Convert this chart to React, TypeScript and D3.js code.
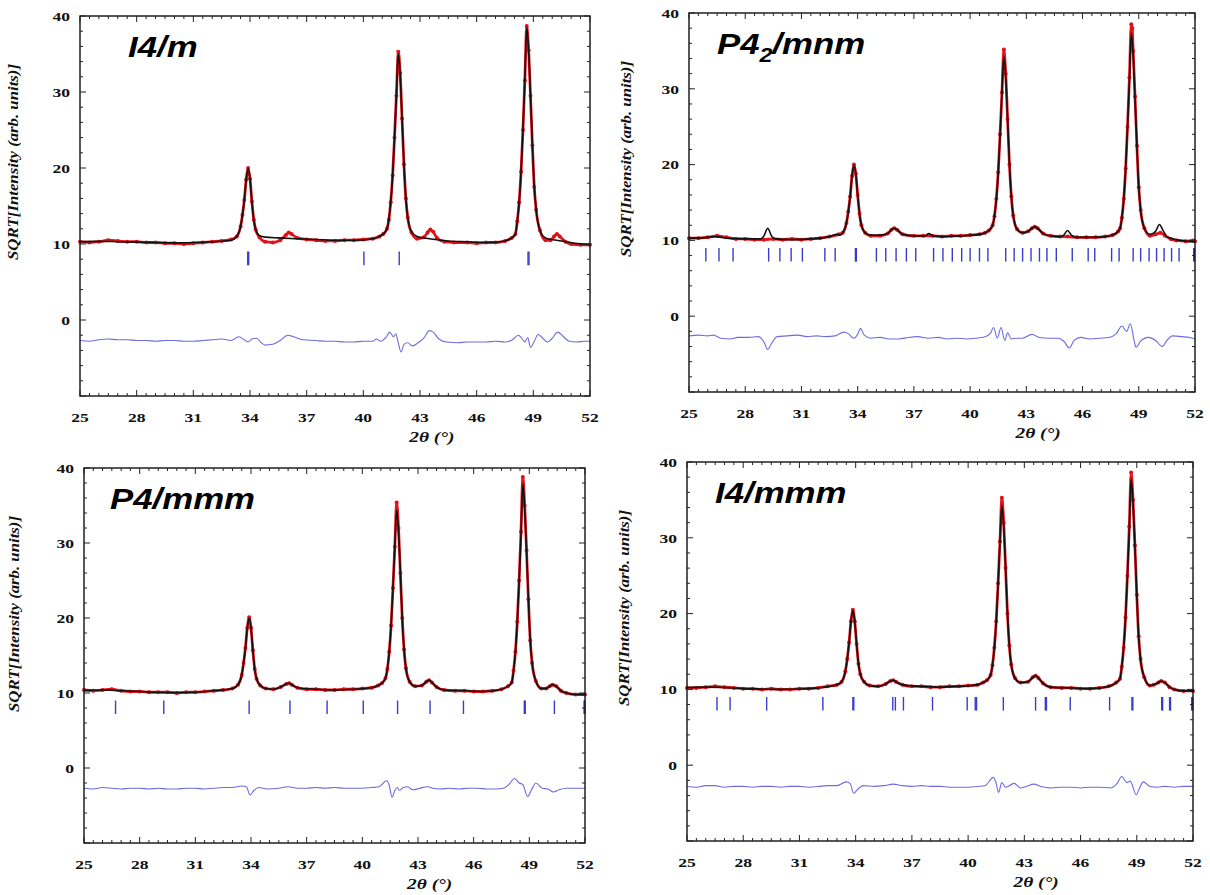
import React from 'react';
import * as d3 from 'd3';

type Pt = [number, number];

// axis ticks shared by all four refinements
const xTickLabels = [25, 28, 31, 34, 37, 40, 43, 46, 49, 52];
const yTickLabels = [0, 10, 20, 30, 40];

// ---- I4/m ----
const obsI4m: Pt[] = [
  [25, 10.3], [25.5, 10.2], [26, 10.3], [26.5, 10.5], [27, 10.4], [27.5, 10.3], [28, 10.3], [28.5, 10.2],
  [29, 10.2], [29.5, 10.1], [30, 10.1], [30.5, 10.0], [31, 10.1], [31.5, 10.2], [32, 10.3], [32.5, 10.4], [33, 10.6],
  [33.3, 11.0], [33.5, 12.3], [33.6, 13.8], [33.7, 15.8], [33.8, 18.5], [33.9, 20.0], [34.0, 18.6], [34.1, 15.6],
  [34.2, 13.2], [34.3, 11.9], [34.5, 10.9], [34.8, 10.3], [35.2, 10.2], [35.6, 10.5], [35.9, 11.2], [36.05, 11.5],
  [36.2, 11.3], [36.5, 10.8], [37, 10.6], [37.5, 10.5], [38, 10.4], [38.5, 10.4], [39, 10.5], [39.5, 10.5],
  [40, 10.6], [40.5, 10.7], [40.85, 11.0],
  [41.05, 11.3], [41.25, 12.0], [41.35, 13.2], [41.45, 15.5], [41.55, 19.0], [41.65, 24.0], [41.75, 29.5],
  [41.85, 35.3], [41.95, 32.5], [42.05, 26.5], [42.15, 20.5], [42.25, 16.0], [42.35, 13.5], [42.55, 11.5],
  [42.85, 10.7], [43.2, 10.9], [43.4, 11.5], [43.55, 11.9], [43.7, 11.6], [43.9, 10.8], [44.3, 10.3], [44.8, 10.2],
  [45.5, 10.2], [46, 10.1], [46.5, 10.2], [47, 10.2], [47.5, 10.4], [47.85, 10.8],
  [48.05, 11.3], [48.15, 13.0], [48.25, 15.5], [48.35, 19.5], [48.45, 25.0], [48.55, 31.5], [48.65, 38.7],
  [48.75, 35.5], [48.85, 29.5], [48.95, 23.0], [49.05, 17.5], [49.15, 14.5], [49.35, 11.8], [49.65, 10.5],
  [49.9, 10.5], [50.1, 11.0], [50.25, 11.3], [50.4, 11.0], [50.7, 10.3], [51, 10.0], [51.5, 9.9], [52, 9.9],
];
const calcI4m: Pt[] = [
  [25, 10.3], [26, 10.35], [27, 10.3], [28, 10.25], [29, 10.2], [30, 10.15], [31, 10.2], [32, 10.3], [33, 10.5],
  [33.3, 11.0], [33.5, 12.3], [33.6, 13.8], [33.7, 15.8], [33.8, 18.5], [33.9, 19.9], [34.0, 18.6], [34.1, 15.6],
  [34.2, 13.2], [34.3, 11.9], [34.5, 11.1], [34.8, 10.9], [35.5, 10.8], [36.5, 10.7], [37.5, 10.6], [38.5, 10.5],
  [39.5, 10.5], [40.5, 10.7], [40.85, 11.0],
  [41.05, 11.3], [41.25, 12.0], [41.35, 13.2], [41.45, 15.5], [41.55, 19.0], [41.65, 24.0], [41.75, 29.5],
  [41.85, 35.0], [41.95, 32.3], [42.05, 26.5], [42.15, 20.5], [42.25, 16.0], [42.35, 13.5], [42.55, 11.6],
  [42.85, 11.0], [43.5, 10.7], [44.5, 10.4], [45.5, 10.3], [46.5, 10.2], [47.5, 10.4], [47.85, 10.8],
  [48.05, 11.3], [48.15, 13.0], [48.25, 15.5], [48.35, 19.5], [48.45, 25.0], [48.55, 31.5], [48.65, 38.5],
  [48.75, 35.5], [48.85, 29.5], [48.95, 23.0], [49.05, 17.5], [49.15, 14.5], [49.35, 11.8], [49.65, 10.8],
  [50.5, 10.4], [51.2, 10.1], [52, 9.9],
];
const diffI4m: Pt[] = [
  [25, -2.7], [25.5, -2.8], [26, -2.6], [26.5, -2.5], [27, -2.6], [27.5, -2.6], [28, -2.7], [28.5, -2.7],
  [29, -2.8], [29.5, -2.7], [30, -2.7], [30.5, -2.8], [31, -2.8], [31.5, -2.7], [32, -2.6], [32.5, -2.5],
  [33, -2.7], [33.4, -2.2], [33.7, -2.6], [33.9, -2.9], [34.1, -2.5], [34.35, -2.4], [34.6, -3.0], [34.8, -3.3],
  [35.2, -3.2], [35.6, -2.7], [36.0, -2.0], [36.3, -2.2], [36.8, -2.6], [37.5, -2.7], [38, -2.8], [38.5, -2.8],
  [39, -2.9], [39.5, -2.9], [40, -2.8], [40.5, -2.8], [40.7, -2.5], [40.9, -2.8], [41.2, -2.3], [41.4, -1.6],
  [41.6, -2.2], [41.72, -1.8], [41.85, -3.0], [42.0, -4.2], [42.15, -3.2], [42.35, -3.0], [42.6, -3.4],
  [42.9, -3.0], [43.2, -2.4], [43.5, -1.4], [43.7, -1.6], [44.0, -2.5], [44.4, -2.9], [45, -3.0], [45.5, -2.9],
  [46, -2.9], [46.5, -2.9], [47, -2.8], [47.5, -2.9], [47.9, -2.6], [48.2, -2.0], [48.45, -2.6], [48.55, -2.9],
  [48.7, -2.3], [48.85, -3.6], [49.05, -2.8], [49.25, -1.9], [49.5, -2.4], [49.75, -2.9], [50.0, -2.4],
  [50.3, -1.6], [50.6, -2.2], [50.9, -2.8], [51.3, -2.9], [51.7, -2.8], [52, -2.8],
];
const braggI4m = [33.88, 33.93, 40.03, 41.9, 48.72, 48.77];

// ---- P4_2/mnm ----
const obsP42mnm: Pt[] = [
  [25, 10.3], [25.5, 10.3], [26, 10.4], [26.5, 10.6], [27, 10.4], [27.5, 10.2], [28, 10.2], [28.5, 10.1],
  [29, 10.1], [29.5, 10.2], [30, 10.1], [30.5, 10.2], [31, 10.1], [31.5, 10.2], [32, 10.3], [32.5, 10.5], [33.0, 10.8],
  [33.2, 11.0], [33.4, 12.3], [33.5, 13.8], [33.6, 15.8], [33.7, 18.5], [33.8, 20.0], [33.9, 18.8], [34.0, 16.0],
  [34.1, 13.5], [34.2, 12.0], [34.4, 11.0], [34.7, 10.6], [35.2, 10.6], [35.6, 10.9], [35.8, 11.4], [35.95, 11.6],
  [36.1, 11.4], [36.4, 10.8], [37, 10.6], [37.5, 10.6], [38, 10.6], [38.5, 10.5], [39, 10.6], [39.5, 10.6],
  [40, 10.7], [40.5, 10.8], [40.8, 11.0],
  [41.0, 11.3], [41.2, 12.0], [41.3, 13.2], [41.4, 15.5], [41.5, 19.0], [41.6, 24.0], [41.7, 29.5], [41.8, 35.2],
  [41.9, 32.0], [42.0, 26.0], [42.1, 20.0], [42.2, 15.8], [42.3, 13.3], [42.5, 11.5], [42.8, 11.0], [43.1, 11.2],
  [43.3, 11.6], [43.45, 11.8], [43.6, 11.6], [43.9, 10.9], [44.3, 10.6], [44.8, 10.5], [45.2, 10.5], [45.7, 10.4],
  [46.2, 10.4], [46.7, 10.4], [47.2, 10.5], [47.6, 10.7], [47.9, 11.2],
  [48.0, 11.6], [48.1, 13.0], [48.2, 15.5], [48.3, 19.5], [48.4, 25.0], [48.5, 31.5], [48.6, 38.5], [48.65, 38.0],
  [48.7, 35.0], [48.8, 29.0], [48.9, 22.5], [49.0, 17.0], [49.1, 14.0], [49.3, 11.6], [49.6, 10.6], [49.9, 10.8],
  [50.15, 11.0], [50.4, 10.6], [50.7, 10.2], [51.0, 10.0], [51.5, 9.9], [51.9, 10.0], [52, 9.9],
];
const calcP42mnm: Pt[] = [
  [25, 10.3], [26, 10.4], [26.4, 10.5], [27, 10.3], [28, 10.2], [28.8, 10.2], [29.0, 10.6], [29.2, 11.6],
  [29.4, 10.6], [29.6, 10.2], [30.5, 10.1], [31.5, 10.2], [32.5, 10.5], [32.9, 10.8], [33.05, 10.7],
  [33.2, 11.0], [33.4, 12.3], [33.5, 13.8], [33.6, 15.8], [33.7, 18.5], [33.8, 19.9], [33.9, 18.8], [34.0, 16.0],
  [34.1, 13.5], [34.2, 12.0], [34.4, 11.0], [34.7, 10.7], [35.2, 10.7], [35.6, 10.9], [35.8, 11.4], [35.95, 11.6],
  [36.1, 11.4], [36.4, 10.8], [37.0, 10.6], [37.6, 10.6], [37.8, 10.9], [38.0, 10.6], [38.5, 10.5], [39.5, 10.6],
  [40.5, 10.8], [40.8, 11.0],
  [41.0, 11.3], [41.2, 12.0], [41.3, 13.2], [41.4, 15.5], [41.5, 19.0], [41.6, 24.0], [41.7, 29.5], [41.8, 34.3],
  [41.9, 31.5], [42.0, 26.0], [42.1, 20.0], [42.2, 15.8], [42.3, 13.3], [42.5, 11.5], [42.8, 11.0], [43.1, 11.2],
  [43.3, 11.6], [43.45, 11.8], [43.6, 11.6], [43.9, 10.9], [44.3, 10.6], [44.8, 10.5], [45.0, 10.7], [45.2, 11.3],
  [45.4, 10.7], [45.7, 10.4], [46.5, 10.4], [47.2, 10.5], [47.6, 10.7], [47.9, 11.2],
  [48.0, 11.6], [48.1, 13.0], [48.2, 15.5], [48.3, 19.5], [48.4, 25.0], [48.5, 31.0], [48.6, 37.4], [48.7, 34.5],
  [48.8, 28.5], [48.9, 22.5], [49.0, 17.0], [49.1, 14.0], [49.3, 11.6], [49.6, 10.8], [49.9, 11.2], [50.1, 12.1],
  [50.3, 11.3], [50.5, 10.5], [51.0, 10.1], [51.5, 9.9], [52, 9.8],
];
const diffP42mnm: Pt[] = [
  [25, -2.6], [25.5, -2.5], [26, -2.6], [26.3, -2.5], [26.7, -2.9], [27.2, -3.0], [27.6, -2.8], [28.2, -2.8],
  [28.7, -2.7], [29.0, -3.4], [29.2, -4.4], [29.4, -3.6], [29.7, -2.7], [30.2, -2.6], [30.8, -2.5], [31.3, -2.7],
  [31.8, -2.6], [32.3, -2.7], [32.8, -2.6], [33.25, -2.1], [33.5, -2.3], [33.8, -2.9], [34.0, -2.4],
  [34.15, -1.6], [34.35, -2.5], [34.7, -2.9], [35.2, -2.8], [35.7, -3.0], [36.2, -3.0], [36.7, -2.8],
  [37.2, -2.7], [37.8, -2.9], [38.3, -2.8], [38.8, -3.0], [39.3, -2.9], [39.8, -3.0], [40.3, -2.9], [40.8, -2.7],
  [41.1, -2.2], [41.25, -1.5], [41.45, -2.9], [41.65, -1.5], [41.85, -3.2], [42.0, -2.2], [42.2, -3.0],
  [42.4, -2.9], [42.8, -2.9], [43.3, -2.4], [43.7, -2.8], [44.2, -2.9], [44.7, -2.9], [45.0, -3.3], [45.3, -4.2],
  [45.55, -3.2], [45.9, -2.8], [46.4, -3.0], [46.9, -2.9], [47.4, -2.8], [47.8, -2.3], [48.1, -1.3],
  [48.35, -2.0], [48.55, -1.0], [48.75, -3.2], [48.85, -4.1], [49.1, -3.3], [49.5, -2.8], [49.9, -3.2],
  [50.25, -4.0], [50.5, -3.2], [50.8, -2.6], [51.3, -2.7], [51.7, -2.8], [52, -3.0],
];
const braggP42mnm = [
  25.9, 26.6, 27.35, 29.25, 29.85, 30.45, 31.05, 32.25, 32.8, 33.88, 33.93, 35.0, 35.5, 36.05, 36.6, 37.1,
  38.05, 38.55, 39.05, 39.55, 40.0, 40.5, 40.95, 41.9, 42.35, 42.8, 43.25, 43.7, 44.1, 44.6, 45.45, 46.3,
  46.65, 47.55, 47.95, 48.7, 49.1, 49.55, 49.95, 50.35, 50.75, 51.15, 51.93, 51.97,
];

// ---- P4/mmm ----
const obsP4mmm: Pt[] = [
  [25, 10.4], [25.5, 10.3], [26, 10.4], [26.5, 10.5], [27, 10.3], [27.5, 10.2], [28, 10.2], [28.5, 10.1],
  [29, 10.1], [29.5, 10.1], [30, 10.0], [30.5, 10.1], [31, 10.1], [31.5, 10.2], [32, 10.3], [32.5, 10.4], [33.0, 10.6],
  [33.3, 11.1], [33.5, 12.4], [33.6, 14.0], [33.7, 16.0], [33.8, 18.7], [33.9, 20.1], [34.0, 18.7], [34.1, 15.7],
  [34.2, 13.2], [34.3, 11.9], [34.5, 11.0], [34.8, 10.6], [35.2, 10.5], [35.6, 10.8], [35.9, 11.2], [36.05, 11.3],
  [36.2, 11.1], [36.5, 10.7], [37, 10.5], [37.5, 10.5], [38, 10.4], [38.5, 10.4], [39, 10.5], [39.5, 10.5],
  [40, 10.6], [40.5, 10.7], [40.85, 11.0],
  [41.05, 11.3], [41.25, 12.0], [41.35, 13.2], [41.45, 15.5], [41.55, 19.0], [41.65, 24.0], [41.75, 29.5],
  [41.85, 35.4], [41.95, 32.0], [42.05, 26.0], [42.15, 20.0], [42.25, 15.8], [42.35, 13.3], [42.55, 11.5],
  [42.85, 10.9], [43.2, 11.0], [43.45, 11.5], [43.6, 11.7], [43.75, 11.4], [44.0, 10.8], [44.4, 10.4], [45, 10.3],
  [45.5, 10.3], [46, 10.2], [46.5, 10.2], [47, 10.3], [47.5, 10.5], [47.85, 10.9],
  [48.05, 11.4], [48.15, 13.0], [48.25, 15.5], [48.35, 19.5], [48.45, 25.0], [48.55, 31.5], [48.65, 38.8],
  [48.75, 35.0], [48.85, 29.0], [48.95, 22.5], [49.05, 17.0], [49.15, 14.0], [49.35, 11.6], [49.65, 10.6],
  [49.9, 10.6], [50.1, 10.9], [50.25, 11.1], [50.45, 10.9], [50.7, 10.3], [51, 10.0], [51.5, 9.8], [52, 9.8],
];
const calcP4mmm: Pt[] = [
  [25, 10.35], [26, 10.4], [27, 10.3], [28, 10.2], [29, 10.1], [30, 10.05], [31, 10.1], [32, 10.3], [33.0, 10.6],
  [33.3, 11.1], [33.5, 12.4], [33.6, 14.0], [33.7, 16.0], [33.8, 18.7], [33.9, 20.0], [34.0, 18.7], [34.1, 15.7],
  [34.2, 13.2], [34.3, 11.9], [34.5, 11.0], [34.8, 10.6], [35.2, 10.5], [35.6, 10.8], [35.9, 11.2], [36.05, 11.3],
  [36.2, 11.1], [36.5, 10.7], [37.5, 10.5], [38.5, 10.4], [39.5, 10.5], [40.5, 10.7], [40.85, 11.0],
  [41.05, 11.3], [41.25, 12.0], [41.35, 13.2], [41.45, 15.5], [41.55, 19.0], [41.65, 24.0], [41.75, 29.5],
  [41.85, 34.4], [41.95, 31.5], [42.05, 26.0], [42.15, 20.0], [42.25, 15.8], [42.35, 13.3], [42.55, 11.5],
  [42.85, 10.9], [43.2, 11.0], [43.45, 11.5], [43.6, 11.7], [43.75, 11.4], [44.0, 10.8], [44.4, 10.4],
  [45.5, 10.3], [46.5, 10.2], [47.5, 10.5], [47.85, 10.9],
  [48.05, 11.4], [48.15, 13.0], [48.25, 15.5], [48.35, 19.5], [48.45, 25.0], [48.55, 31.0], [48.65, 37.9],
  [48.75, 34.5], [48.85, 29.0], [48.95, 22.5], [49.05, 17.0], [49.15, 14.0], [49.35, 11.6], [49.65, 10.6],
  [49.9, 10.6], [50.1, 10.9], [50.25, 11.1], [50.45, 10.9], [50.7, 10.3], [51, 10.0], [51.5, 9.8], [52, 9.8],
];
const diffP4mmm: Pt[] = [
  [25, -2.7], [25.5, -2.8], [26, -2.6], [26.5, -2.7], [27, -2.8], [27.5, -2.7], [28, -2.7], [28.5, -2.8],
  [29, -2.7], [29.5, -2.8], [30, -2.8], [30.5, -2.7], [31, -2.7], [31.5, -2.8], [32, -2.7], [32.5, -2.6],
  [33, -2.6], [33.5, -2.4], [33.75, -2.5], [33.95, -3.6], [34.15, -3.0], [34.4, -2.6], [34.9, -2.8],
  [35.5, -2.7], [36.0, -2.5], [36.5, -2.7], [37, -2.7], [37.5, -2.6], [38, -2.7], [38.5, -2.6], [39, -2.7],
  [39.5, -2.7], [40, -2.7], [40.5, -2.6], [40.9, -2.5], [41.3, -1.7], [41.45, -2.3], [41.6, -3.9],
  [41.75, -3.0], [41.88, -2.6], [42.0, -3.0], [42.2, -2.6], [42.45, -2.5], [42.7, -2.9], [43.1, -2.7],
  [43.5, -2.5], [43.8, -2.7], [44.2, -2.8], [44.7, -2.7], [45.2, -2.8], [45.7, -2.7], [46.2, -2.7],
  [46.7, -2.8], [47.2, -2.8], [47.6, -2.7], [47.9, -2.2], [48.2, -1.4], [48.45, -2.0], [48.65, -2.2],
  [48.9, -3.8], [49.1, -3.0], [49.35, -2.0], [49.7, -2.7], [50.0, -2.8], [50.3, -3.2], [50.6, -2.9],
  [51, -2.7], [51.5, -2.7], [52, -2.7],
];
const braggP4mmm = [26.7, 29.3, 33.9, 36.1, 38.1, 40.05, 41.9, 43.65, 45.45, 48.73, 48.78, 50.35, 51.95, 52.0];

// ---- I4/mmm ----
const obsI4mmm: Pt[] = [
  [25, 10.2], [25.5, 10.2], [26, 10.3], [26.5, 10.4], [27, 10.3], [27.5, 10.2], [28, 10.1], [28.5, 10.1],
  [29, 10.0], [29.5, 10.1], [30, 10.0], [30.5, 10.0], [31, 10.1], [31.5, 10.1], [32, 10.2], [32.5, 10.4], [33.0, 10.6],
  [33.25, 11.0], [33.45, 12.4], [33.55, 14.0], [33.65, 16.2], [33.75, 19.0], [33.85, 20.5], [33.95, 19.0],
  [34.05, 16.0], [34.15, 13.4], [34.25, 12.0], [34.45, 11.0], [34.75, 10.5], [35.2, 10.4], [35.6, 10.7],
  [35.85, 11.1], [36.0, 11.2], [36.15, 11.0], [36.5, 10.6], [37, 10.4], [37.5, 10.4], [38, 10.3], [38.5, 10.3],
  [39, 10.4], [39.5, 10.4], [40, 10.5], [40.5, 10.6], [40.8, 10.9],
  [41.0, 11.2], [41.2, 11.9], [41.3, 13.2], [41.4, 15.5], [41.5, 19.0], [41.6, 24.0], [41.7, 29.5], [41.8, 35.3],
  [41.9, 32.0], [42.0, 26.0], [42.1, 20.0], [42.2, 15.8], [42.3, 13.3], [42.5, 11.5], [42.8, 10.9], [43.2, 11.0],
  [43.45, 11.6], [43.6, 11.8], [43.75, 11.5], [44.0, 10.8], [44.4, 10.3], [45, 10.2], [45.5, 10.2], [46, 10.1],
  [46.5, 10.1], [47, 10.2], [47.5, 10.4], [47.9, 10.9],
  [48.1, 11.4], [48.2, 13.0], [48.3, 15.5], [48.4, 19.5], [48.5, 25.0], [48.6, 31.5], [48.7, 38.6], [48.8, 35.0],
  [48.9, 29.0], [49.0, 22.5], [49.1, 17.0], [49.2, 14.0], [49.4, 11.6], [49.7, 10.5], [49.9, 10.6],
  [50.15, 10.9], [50.3, 11.1], [50.5, 10.9], [50.75, 10.3], [51, 10.0], [51.5, 9.8], [52, 9.8],
];
const calcI4mmm: Pt[] = [
  [25, 10.25], [26, 10.3], [27, 10.25], [28, 10.1], [29, 10.05], [30, 10.0], [31, 10.05], [32, 10.2], [33.0, 10.6],
  [33.25, 11.0], [33.45, 12.4], [33.55, 14.0], [33.65, 16.2], [33.75, 19.0], [33.85, 20.4], [33.95, 19.0],
  [34.05, 16.0], [34.15, 13.4], [34.25, 12.0], [34.45, 11.0], [34.75, 10.5], [35.2, 10.4], [35.6, 10.7],
  [35.85, 11.1], [36.0, 11.2], [36.15, 11.0], [36.5, 10.6], [37.5, 10.4], [38.5, 10.3], [39.5, 10.4],
  [40.5, 10.6], [40.8, 10.9],
  [41.0, 11.2], [41.2, 11.9], [41.3, 13.2], [41.4, 15.5], [41.5, 19.0], [41.6, 24.0], [41.7, 29.5], [41.8, 34.3],
  [41.9, 31.5], [42.0, 26.0], [42.1, 20.0], [42.2, 15.8], [42.3, 13.3], [42.5, 11.5], [42.8, 10.9], [43.2, 11.0],
  [43.45, 11.6], [43.6, 11.8], [43.75, 11.5], [44.0, 10.8], [44.4, 10.3], [45.5, 10.2], [46.5, 10.1],
  [47.5, 10.4], [47.9, 10.9],
  [48.1, 11.4], [48.2, 13.0], [48.3, 15.5], [48.4, 19.5], [48.5, 25.0], [48.6, 31.0], [48.7, 37.8], [48.8, 34.5],
  [48.9, 29.0], [49.0, 22.5], [49.1, 17.0], [49.2, 14.0], [49.4, 11.6], [49.7, 10.5], [49.9, 10.6],
  [50.15, 10.9], [50.3, 11.1], [50.5, 10.9], [50.75, 10.3], [51, 10.0], [51.5, 9.8], [52, 9.8],
];
const diffI4mmm: Pt[] = [
  [25, -2.8], [25.5, -2.9], [26, -2.7], [26.5, -2.7], [27, -2.9], [27.5, -2.8], [28, -2.8], [28.5, -2.9],
  [29, -2.8], [29.5, -2.8], [30, -2.9], [30.5, -2.8], [31, -2.8], [31.5, -2.9], [32, -2.8], [32.5, -2.7],
  [33, -2.7], [33.5, -2.2], [33.7, -2.4], [33.9, -3.7], [34.1, -3.2], [34.4, -2.7], [35, -2.8], [35.5, -2.7],
  [36.0, -2.5], [36.5, -2.7], [37, -2.8], [37.5, -2.7], [38, -2.8], [38.5, -2.8], [39, -2.9], [39.5, -2.9],
  [40, -2.9], [40.5, -2.8], [40.9, -2.7], [41.35, -1.6], [41.5, -2.4], [41.62, -3.6], [41.8, -2.3], [42.0, -2.9],
  [42.2, -2.7], [42.45, -2.4], [42.8, -3.0], [43.1, -2.8], [43.5, -2.5], [43.9, -2.8], [44.4, -3.0], [45, -2.9],
  [45.5, -2.9], [46, -3.0], [46.5, -2.9], [47, -2.9], [47.6, -3.0], [47.95, -2.4], [48.2, -1.5], [48.47, -2.3],
  [48.65, -2.1], [48.97, -3.9], [49.15, -3.0], [49.35, -2.2], [49.7, -2.8], [50.1, -2.9], [50.5, -2.8],
  [51, -2.9], [51.5, -2.8], [52, -2.8],
];
const braggI4mmm = [
  26.6, 27.3, 29.25, 32.25, 33.85, 33.9, 35.98, 36.12, 36.55, 38.1, 39.95, 40.38, 40.45, 41.88, 43.6, 44.12,
  44.18, 45.45, 47.55, 48.74, 48.79, 50.33, 50.38, 50.75, 50.8, 51.93, 51.98,
];

// frame placement of each refinement in the 1210x895 figure
const panels = [
  { name: ['I4/m'], obs: obsI4m, calc: calcI4m, diff: diffI4m, bragg: braggI4m,
    x0: 80, x1: 590, y0: 16, y1: 396, titleDx: 48, yLabelDx: 62 },
  { name: ['P4', '2', '/mnm'], obs: obsP42mnm, calc: calcP42mnm, diff: diffP42mnm, bragg: braggP42mnm,
    x0: 689, x1: 1195, y0: 13, y1: 392, titleDx: 28, yLabelDx: 58 },
  { name: ['P4/mmm'], obs: obsP4mmm, calc: calcP4mmm, diff: diffP4mmm, bragg: braggP4mmm,
    x0: 84, x1: 585, y0: 468, y1: 843, titleDx: 26, yLabelDx: 65 },
  { name: ['I4/mmm'], obs: obsI4mmm, calc: calcI4mmm, diff: diffI4mmm, bragg: braggI4mmm,
    x0: 687, x1: 1193, y0: 462, y1: 841, titleDx: 28, yLabelDx: 58 },
];

const serif = '"Liberation Serif", "Times New Roman", serif';
const sans = '"Liberation Sans", Arial, sans-serif';
const stretch = 1.3; // the source figure's lettering is horizontally stretched

function Panel({ p }: { p: (typeof panels)[number] }) {
  const x = d3.scaleLinear().domain([25, 52]).range([p.x0, p.x1]);
  const y = d3.scaleLinear().domain([-10, 40]).range([p.y1, p.y0]);
  const line = d3.line<Pt>().x(d => x(d[0])).y(d => y(d[1])).curve(d3.curveMonotoneX);

  const minorX = d3.range(25, 52.001, 0.5).filter(t => !xTickLabels.includes(t));
  const minorY = d3.range(-10, 40.001, 2).filter(v => v % 10 !== 0);
  const majorY = d3.range(-10, 40.001, 10);

  const ticks: JSX.Element[] = [];
  xTickLabels.forEach((t, i) => {
    ticks.push(<line key={`xb${i}`} x1={x(t)} x2={x(t)} y1={p.y1} y2={p.y1 - 6} />);
    ticks.push(<line key={`xt${i}`} x1={x(t)} x2={x(t)} y1={p.y0} y2={p.y0 + 6} />);
  });
  minorX.forEach((t, i) => {
    ticks.push(<line key={`mxb${i}`} x1={x(t)} x2={x(t)} y1={p.y1} y2={p.y1 - 3} />);
    ticks.push(<line key={`mxt${i}`} x1={x(t)} x2={x(t)} y1={p.y0} y2={p.y0 + 3} />);
  });
  majorY.forEach((v, i) => {
    ticks.push(<line key={`yl${i}`} x1={p.x0} x2={p.x0 + 6} y1={y(v)} y2={y(v)} />);
    ticks.push(<line key={`yr${i}`} x1={p.x1} x2={p.x1 - 6} y1={y(v)} y2={y(v)} />);
  });
  minorY.forEach((v, i) => {
    ticks.push(<line key={`myl${i}`} x1={p.x0} x2={p.x0 + 3} y1={y(v)} y2={y(v)} />);
    ticks.push(<line key={`myr${i}`} x1={p.x1} x2={p.x1 - 3} y1={y(v)} y2={y(v)} />);
  });

  const width = p.x1 - p.x0;

  return (
    <g>
      {/* observed: dense band in the background, single dots on the peak flanks */}
      <path d={line(p.obs) ?? ''} fill="none" stroke="#e3161d" strokeWidth={2.8} strokeLinejoin="round" />
      {p.obs.map((d, i) => (
        <circle key={i} cx={x(d[0])} cy={y(d[1])} r={2} fill="#e01018" />
      ))}
      {/* calculated */}
      <path d={line(p.calc) ?? ''} fill="none" stroke="#111" strokeWidth={1.6} />
      {/* Bragg positions */}
      {p.bragg.map((t, i) => (
        <line key={i} x1={x(t)} x2={x(t)} y1={y(9.0)} y2={y(7.2)} stroke="#3c3cc8" strokeWidth={1.4} />
      ))}
      {/* difference */}
      <path d={line(p.diff) ?? ''} fill="none" stroke="#6c6ce0" strokeWidth={1.1} />

      {/* frame + ticks */}
      <rect x={p.x0} y={p.y0} width={width} height={p.y1 - p.y0} fill="none" stroke="#111" strokeWidth={1.4} />
      <g stroke="#222" strokeWidth={1}>{ticks}</g>

      {xTickLabels.map(t => (
        <text key={t} transform={`translate(${x(t)},${p.y1 + 26}) scale(${stretch},1)`} textAnchor="middle"
          fontFamily={serif} fontWeight="bold" fontSize={13.5} fill="#111">{t}</text>
      ))}
      {yTickLabels.map(v => (
        <text key={v} transform={`translate(${p.x0 - 10},${y(v)}) scale(${stretch},1)`} dy="0.35em"
          textAnchor="end" fontFamily={serif} fontWeight="bold" fontSize={13.5} fill="#111">{v}</text>
      ))}

      <text transform={`translate(${p.x0 + width * 0.69},${p.y1 + 46}) scale(1.25,1)`} textAnchor="middle"
        fontFamily={serif} fontWeight="bold" fontStyle="italic" fontSize={15.5} fill="#111">2θ (°)</text>
      <text transform={`translate(${p.x0 - p.yLabelDx},${p.y0 + 146}) rotate(-90)`} textAnchor="middle"
        fontFamily={serif} fontWeight="bold" fontStyle="italic" fontSize={14} fill="#111"
        textLength={196} lengthAdjust="spacingAndGlyphs">
        SQRT[Intensity (arb. units)]
      </text>

      <text transform={`translate(${p.x0 + p.titleDx},${p.y0 + 41}) scale(1.16,1)`} fontFamily={sans}
        fontWeight="bold" fontStyle="italic" fontSize={30} fill="#000">
        {p.name.length === 1 ? p.name[0] : (
          <>
            <tspan>{p.name[0]}</tspan>
            <tspan dy={8} fontSize={20}>{p.name[1]}</tspan>
            <tspan dy={-8}>{p.name[2]}</tspan>
          </>
        )}
      </text>
    </g>
  );
}

export default function App() {
  return (
    <svg width={1210} height={895} viewBox="0 0 1210 895"
      style={{ position: 'absolute', left: 0, top: 0, background: '#fff' }}>
      <rect width={1210} height={895} fill="#fff" />
      {panels.map((p, i) => <Panel key={i} p={p} />)}
    </svg>
  );
}
